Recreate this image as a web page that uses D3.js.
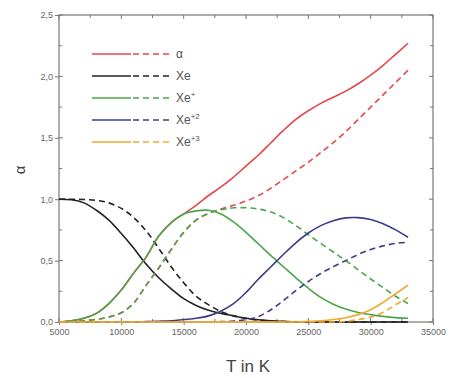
<!DOCTYPE html>
<html>
<head>
<meta charset="utf-8">
<script src="https://cdn.jsdelivr.net/npm/d3@7"></script>
<style>
  body { margin: 0; background: #fff; }
  svg { display: block; font-family: "Liberation Sans", Arial, sans-serif; }
</style>
</head>
<body>
<svg id="chart" width="454" height="378"></svg>
<script>
// temperature grid (K)
const temps = [5000, 6000, 7000, 8000, 9000, 10000, 11000, 12000, 13000, 14000,
  15000, 16000, 17000, 18000, 19000, 20000, 21000, 22000, 23000, 24000,
  25000, 26000, 27000, 28000, 29000, 30000, 31000, 32000, 33000];

// solid curves
const alphaSolid = [0, 0.01, 0.03, 0.07, 0.15, 0.26, 0.40, 0.53, 0.70, 0.81,
  0.88, 0.95, 1.03, 1.10, 1.18, 1.27, 1.36, 1.46, 1.56, 1.65,
  1.72, 1.78, 1.83, 1.88, 1.94, 2.01, 2.09, 2.18, 2.27];
const xeSolid = [1.0, 0.995, 0.97, 0.91, 0.83, 0.72, 0.60, 0.47, 0.36, 0.27,
  0.19, 0.135, 0.095, 0.07, 0.05, 0.03, 0.018, 0.01, 0.005, 0,
  0, 0, 0, 0, 0, 0, 0, 0, 0];
const xe1Solid = [0, 0.01, 0.03, 0.07, 0.15, 0.26, 0.40, 0.53, 0.70, 0.81,
  0.88, 0.905, 0.91, 0.88, 0.815, 0.73, 0.635, 0.54, 0.45, 0.36,
  0.275, 0.20, 0.145, 0.105, 0.078, 0.06, 0.046, 0.036, 0.03];
const xe2Solid = [0, 0, 0, 0, 0, 0, 0, 0.003, 0.006, 0.01,
  0.02, 0.03, 0.05, 0.09, 0.15, 0.24, 0.35, 0.45, 0.55, 0.645,
  0.725, 0.785, 0.825, 0.848, 0.85, 0.835, 0.80, 0.75, 0.69];
const xe3Solid = [0, 0, 0, 0, 0, 0, 0, 0, 0, 0,
  0, 0, 0, 0, 0, 0, 0, 0, 0, 0,
  0.005, 0.01, 0.02, 0.035, 0.06, 0.10, 0.16, 0.23, 0.30];

// dashed curves
const alphaDash = [0, 0.003, 0.01, 0.022, 0.04, 0.075, 0.155, 0.30, 0.44, 0.59,
  0.73, 0.83, 0.885, 0.92, 0.95, 0.985, 1.03, 1.09, 1.16, 1.23,
  1.30, 1.38, 1.46, 1.55, 1.65, 1.75, 1.85, 1.95, 2.05];
const xeDash = [1.0, 1.0, 0.997, 0.99, 0.97, 0.925, 0.85, 0.74, 0.60, 0.45,
  0.32, 0.21, 0.14, 0.085, 0.05, 0.03, 0.015, 0.007, 0.003, 0,
  0, 0, 0, 0, 0, 0, 0, 0, 0];
const xe1Dash = [0, 0.003, 0.01, 0.022, 0.04, 0.075, 0.155, 0.30, 0.44, 0.59,
  0.73, 0.83, 0.885, 0.915, 0.93, 0.93, 0.92, 0.895, 0.85, 0.785,
  0.71, 0.64, 0.57, 0.50, 0.425, 0.35, 0.28, 0.21, 0.15];
const xe2Dash = [0, 0, 0, 0, 0, 0, 0, 0, 0, 0,
  0, 0, 0, 0.003, 0.008, 0.02, 0.045, 0.10, 0.175, 0.255,
  0.33, 0.395, 0.45, 0.50, 0.55, 0.59, 0.62, 0.64, 0.65];
const xe3Dash = [0, 0, 0, 0, 0, 0, 0, 0, 0, 0,
  0, 0, 0, 0, 0, 0, 0, 0, 0, 0,
  0, 0, 0, 0.005, 0.02, 0.04, 0.08, 0.14, 0.20];

const seriesNames = ["α", "Xe", "Xe+", "Xe+2", "Xe+3"];
const seriesColors = ["#e4474b", "#222222", "#4ca54c", "#3b3b8c", "#f0a830"];
const solidSets = [alphaSolid, xeSolid, xe1Solid, xe2Solid, xe3Solid];
const dashSets = [alphaDash, xeDash, xe1Dash, xe2Dash, xe3Dash];

const xTicks = [5000, 10000, 15000, 20000, 25000, 30000, 35000];
const yTicks = [0, 0.5, 1.0, 1.5, 2.0, 2.5];

const plotL = 59, plotR = 433, plotT = 15, plotB = 322;
const svg = d3.select("#chart");

const x = d3.scaleLinear().domain([5000, 35000]).range([plotL, plotR]);
const y = d3.scaleLinear().domain([0, 2.5]).range([plotB, plotT]);
const fmt = d => d.toFixed(1).replace(".", ",");
const axisColor = "#777";

// frame
svg.append("rect")
   .attr("x", plotL).attr("y", plotT)
   .attr("width", plotR - plotL).attr("height", plotB - plotT)
   .attr("fill", "none").attr("stroke", axisColor).attr("stroke-width", 1.2);

// axes
const xMinor = d3.range(7500, 35000, 5000);
const yMinor = d3.range(0.25, 2.5, 0.5);

const bAxis = svg.append("g").attr("transform", `translate(0,${plotB})`)
   .call(d3.axisBottom(x).tickValues(xTicks).tickFormat(d => d).tickSize(3).tickPadding(4));
const lAxis = svg.append("g").attr("transform", `translate(${plotL},0)`)
   .call(d3.axisLeft(y).tickValues(yTicks).tickFormat(fmt).tickSize(4).tickPadding(2));
[bAxis, lAxis].forEach(g => {
  g.select(".domain").remove();
  g.selectAll("line").attr("stroke", axisColor);
  g.selectAll("text").attr("fill", "#666").style("font-size", "9px");
});

// inner ticks on all sides
const tickG = svg.append("g").attr("stroke", axisColor);
xTicks.concat(xMinor).forEach(v => {
  const len = xTicks.includes(v) ? 4 : 3;
  tickG.append("line").attr("x1", x(v)).attr("x2", x(v)).attr("y1", plotB).attr("y2", plotB - len);
  tickG.append("line").attr("x1", x(v)).attr("x2", x(v)).attr("y1", plotT).attr("y2", plotT + len);
});
yTicks.concat(yMinor).forEach(v => {
  const len = yTicks.includes(v) ? 4 : 3;
  tickG.append("line").attr("x1", plotL).attr("x2", plotL + len).attr("y1", y(v)).attr("y2", y(v));
  tickG.append("line").attr("x1", plotR).attr("x2", plotR - len).attr("y1", y(v)).attr("y2", y(v));
});

// axis titles
svg.append("text")
   .attr("x", 248).attr("y", 372)
   .attr("text-anchor", "middle")
   .attr("fill", "#444")
   .style("font-size", "17px")
   .text("T in K");
svg.append("text")
   .attr("transform", "translate(25,170) rotate(-90)")
   .attr("text-anchor", "middle")
   .attr("fill", "#444")
   .style("font-size", "15px")
   .text("α");

// curves
const line = vals => d3.line()
   .x((d, i) => x(temps[i]))
   .y(d => y(d))
   .curve(d3.curveCatmullRom.alpha(0.5))(vals);

const curves = svg.append("g").attr("fill", "none").attr("stroke-width", 1.6);
seriesNames.forEach((name, k) => {
  curves.append("path")
        .attr("d", line(dashSets[k]))
        .attr("stroke", seriesColors[k])
        .attr("stroke-dasharray", "6,4");
  curves.append("path")
        .attr("d", line(solidSets[k]))
        .attr("stroke", seriesColors[k]);
});

// legend
const legend = svg.append("g");
const rowY = [54, 76, 98, 120, 142];
seriesNames.forEach((name, k) => {
  const g = legend.append("g").attr("transform", `translate(0,${rowY[k]})`);
  g.append("line").attr("x1", 92).attr("x2", 131).attr("y1", 0).attr("y2", 0)
   .attr("stroke", seriesColors[k]).attr("stroke-width", 1.6);
  g.append("line").attr("x1", 133).attr("x2", 173).attr("y1", 0).attr("y2", 0)
   .attr("stroke", seriesColors[k]).attr("stroke-width", 1.6)
   .attr("stroke-dasharray", "6,4");
  const t = g.append("text").attr("x", 176).attr("y", 4)
   .attr("fill", "#555").style("font-size", "12px");
  const base = name.startsWith("Xe") ? "Xe" : name;
  t.append("tspan").text(base);
  const sup = name.slice(base.length);
  if (sup) t.append("tspan").attr("dy", -5).style("font-size", "8px").text(sup);
});
</script>
</body>
</html>
